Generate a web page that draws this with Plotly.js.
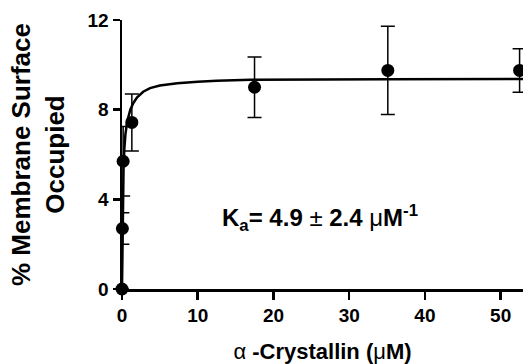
<!DOCTYPE html>
<html>
<head>
<meta charset="utf-8">
<script src="https://cdn.plot.ly/plotly-3.0.1.min.js"></script>
<style>html,body{margin:0;padding:0;background:#fff;}#chart{width:523px;height:364px;}</style>
</head>
<body>
<div id="chart"></div>
<script>
// Measured data points (alpha-crystallin concentration, uM) and % surface occupied
var concentration = [0, 0.05, 0.15, 1.3, 17.5, 35.1, 52.5];
var occupied      = [0, 2.7, 5.7, 7.43, 9.0, 9.75, 9.75];
var occupiedErr   = [0, 0.7, 1.55, 1.27, 1.35, 1.97, 0.97];

// Fitted binding curve
var fitX = [0, 0.04, 0.08, 0.13, 0.2, 0.3, 0.45, 0.7, 1.1, 1.5, 2.0, 2.8, 3.7, 5, 7.3, 10, 12.5, 17, 25, 35, 53];
var fitY = [0, 1.5, 2.9, 4.2, 5.3, 6.2, 6.9, 7.5, 8.0, 8.3, 8.55, 8.8, 8.96, 9.08, 9.18, 9.24, 9.29, 9.33, 9.35, 9.36, 9.37];

var yTicks = [0, 4, 8, 12];
var xTicks = [0, 10, 20, 30, 40, 50];

var FONT = '"Liberation Sans", Arial, sans-serif';

var traces = [
  {
    x: fitX, y: fitY, type: 'scatter', mode: 'lines',
    line: {color: '#000', width: 2.5},
    cliponaxis: false, hoverinfo: 'skip', showlegend: false
  },
  {
    x: concentration, y: occupied, type: 'scatter', mode: 'markers',
    marker: {color: '#000', size: 13},
    error_y: {type: 'data', array: occupiedErr, visible: true, color: '#000', thickness: 1.5, width: 7},
    cliponaxis: false, showlegend: false
  }
];

var layout = {
  width: 523, height: 364,
  margin: {l: 122, r: 0, t: 20, b: 75},
  paper_bgcolor: '#fff', plot_bgcolor: '#fff',
  font: {family: FONT, color: '#000'},
  showlegend: false,
  xaxis: {
    range: [0, 52.95], tickvals: xTicks, ticktext: xTicks.map(function (v) { return '<b>' + v + '</b>'; }),
    showline: true, linecolor: '#000', linewidth: 2.5,
    ticks: 'outside', ticklen: 8, tickwidth: 2.5, tickcolor: '#000',
    showgrid: false, zeroline: false,
    tickfont: {family: FONT, size: 19, color: '#000'},
    title: {text: 'α<b> -Crystallin (</b>μ<b>M)</b>', font: {family: FONT, size: 22, color: '#000'}, standoff: 20}
  },
  yaxis: {
    range: [0, 12], tickvals: yTicks, ticktext: yTicks.map(function (v) { return '<b>' + v + '</b>'; }),
    showline: true, linecolor: '#000', linewidth: 2.5,
    ticks: 'outside', ticklen: 7, tickwidth: 2.5, tickcolor: '#000',
    showgrid: false, zeroline: false,
    tickfont: {family: FONT, size: 19, color: '#000'},
    title: {text: '<b>% Membrane Surface<br>Occupied</b>', font: {family: FONT, size: 26, color: '#000'}, standoff: 16}
  },
  annotations: [
    {
      xref: 'x', yref: 'y', x: 26.2, y: 3.17, showarrow: false,
      text: '<b>K<sub>a</sub>= 4.9 </b>±<b> 2.4 </b>μ<b>M<sup>-1</sup></b>',
      font: {family: FONT, size: 24, color: '#000'}
    }
  ]
};

Plotly.newPlot('chart', traces, layout, {displayModeBar: false, staticPlot: true});
</script>
</body>
</html>
